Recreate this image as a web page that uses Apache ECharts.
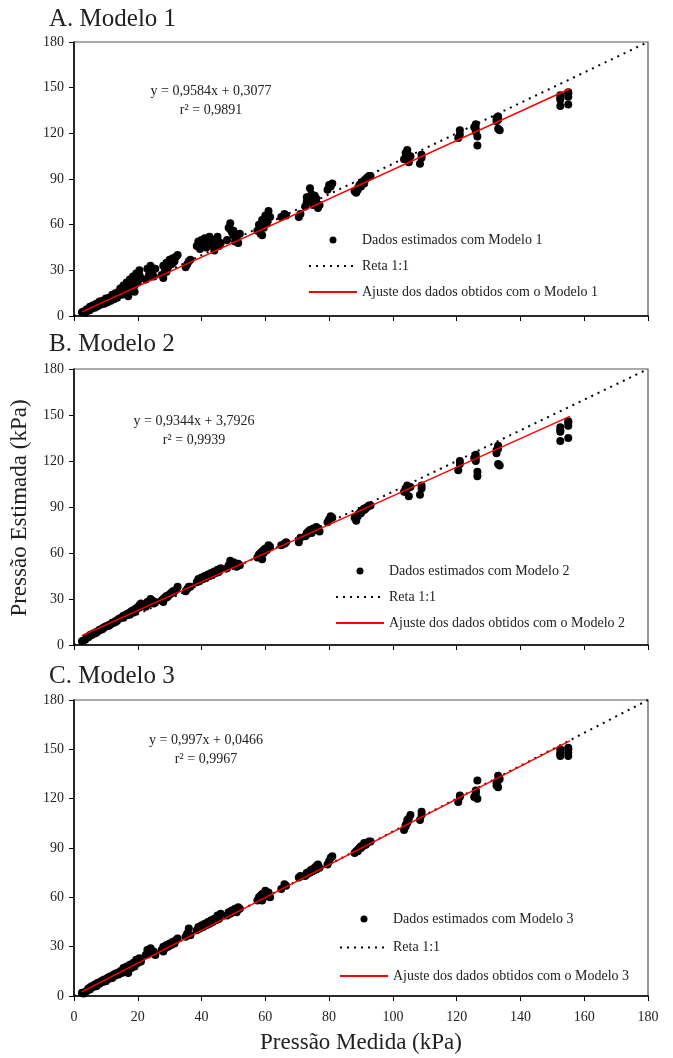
<!DOCTYPE html>
<html>
<head>
<meta charset="utf-8">
<script src="https://cdn.jsdelivr.net/npm/echarts@6/dist/echarts.min.js"></script>
<style>
html,body{margin:0;padding:0;background:#fff;}
#chart{width:673px;height:1058px;}
</style>
</head>
<body>
<div id="chart"></div>
<script>
// Pressão medida (kPa) – shared by the three models
const medida = [
  2.5,3,3.5,4,4.5,5,5.5,6,6.5,7,7.5,8,8.5,9,9.5,10,10.5,11,11.5,12,12.5,13,13.5,14,
  14.5,15,15.5,16,16.5,17,17,17.5,18,18.5,19,19,19.5,20,20.5,21,
  22.5,23,23.5,24,24.5,25,25.5,
  27.5,28,28,28.5,29,29.5,30,30.5,31,31.5,32,32.5,
  35,35.5,36,36.5,
  38.5,39,39.5,40,40.5,41,41.5,42,42.5,43,43.5,44,44.5,45,45.5,46,
  48,48.5,49,49.5,50,50.5,51,51.5,52,
  57.5,58,58.5,59,59,59.5,60,60.5,61,61.5,
  65,66,66.5,
  70.5,71,
  72.5,73,73.5,74,74.5,75,75.5,76,76.5,77,
  79.5,80,80.5,81,
  88,88.5,89,89.5,90,90.5,91,91.5,92,92.5,93,
  103.5,104,104.5,105,105.5,
  108.5,109,109,
  120.5,121,121,
  125.5,126,126,126.5,126.5,
  132.5,133,133,133.5,132.5,
  152.5,152.5,152.5,155,155,155,
  5,7,9,11,13,
  15.5,16.5,17.5,18.5,19.5,20.5,
  24,29,30,31,
  39,40,41,42,43,44,45,
  49,50,51,
  58.5,59.5,60.5,
  73,74,75,76,
  89,90,91,
  104,104.5,
  126,
  133,
  152.5,
  155
];
// Pressão estimada (kPa)
const estimadaModelo1 = [
  2.5,3,2,4.5,3.5,6,5,7,5.5,8,6.5,9.5,7.5,10,8,11.5,9,12,10,14,11,15,12,16,
  18,14,20,16,22,18,13,24,17,26,20,16,28,22,30,25,
  24,31,27,33,29,26,31,
  27,33,25,30,35,32,37,34,38,36,39,40,
  32,34,36,37,
  46,49,44,50,47,51,45,49,52,47,50,43,49,52,46,48,
  50,58,61,55,53,49,52,48,54,
  56,60,54,63,53,58,66,61,69,65,
  65,67,66,
  65,67,
  72,75,78,84,80,76,79,74,71,73,
  83,86,85,87,
  82,81,84,86,85,88,89,90,91,92,92,
  103,107,109,101,105,
  100,104,106,
  117,122,119,
  124,121,126,118,112,
  128,131,123,122,130,
  145,142,138,147,144,139,
  4,6,9,11,13,
  17,19,20,22,24,27,
  30,29,34,35,
  46,47,48,46,49,48,50,
  57,56,50,
  58,61,64,
  78,77,73,77,
  83,87,87,
  104,106,
  123,
  129,
  143,
  146
];
const estimadaModelo2 = [
  2.5,3,3.5,5,5,6,6.5,7.5,7.5,8.5,9,10,10,11,11.5,12,12.5,13,13.5,14.5,14.5,15.5,16,17,
  17.5,18,19,19,20,20.5,19.5,21,22,22.5,23,21.5,24,24.5,26,27,
  25,28,27,30,29,27,28,
  29,30,28,31,32,32,33,34,35,35,36,38,
  35,36.5,38,38,
  41,43,42,44,43,45,44,46,45,47,46,48,47,49,48,50,
  50,52,55,53,54,52,51,53,52,
  57,59,58,61,56,60,63,62,65,64,
  65,66,67,
  67,70,
  71,72,74,75,73,76,75,77,76,74,
  80,82,84,83,
  83,81,85,86,87,88,89,89,90,91,91,
  100,102,104,97,103,
  98,104,102,
  114,118,120,
  122,120,124,113,110,
  127,130,118,117,125,
  142,139,133,146,143,135,
  6.5,8,10.5,12.5,15,
  18,19.5,20,21,23,24.5,
  28,31,33,34,
  42,43,44,45,46,47,48,
  52,53,53,
  60,62,63,
  73,74,75,76,
  84,86,88,
  100,102,
  122,
  128,
  140,
  145
];
const estimadaModelo3 = [
  2,1.5,2.5,3,4.5,4,6,5.5,7,7,8,7.5,9,9.5,10,9,11,11.5,12,11,13,13.5,14,13,
  15,14,17,15,18,16,14,19,17,20,19,18,22,20,23,21,
  25,28,27,29,26,27,25,
  28,30,27,29,31,30,32,31,33,32,34,35,
  36,38,41,37,
  40,42,41,43,42,44,43,45,44,46,45,47,46,49,47,50,
  49,51,50,52,51,53,52,54,53,
  58,60,59,62,58,61,64,62,63,60,
  65,68,67,
  72,73,
  73,74,75,76,77,76,78,79,80,78,
  80,82,84,85,
  87,88,89,90,90,91,93,92,93,94,94,
  101,103,105,108,110,
  107,110,112,
  118,121,122,
  121,123,125,131,120,
  130,134,127,132,128,
  150,146,147,151,148,146,
  5,6,8.5,10.5,12.5,
  16,17,17.5,19,20,22,
  28,30,31,32,
  41,42,43,44,45,46,47,
  51,52,51,
  61,60,63,
  75,75,77,77,
  88,91,92,
  104,107,
  124,
  131,
  148,
  150
];
// Fitted lines (endpoints) and 1:1 line
const ajusteModelo1 = [[2.5, 2.7], [155.5, 149.3]];
const ajusteModelo2 = [[2.5, 6.1], [155.5, 149.1]];
const ajusteModelo3 = [[2.5, 2.5], [155.5, 155.1]];
const reta11 = [[0, 0], [180, 180]];
const ticksY = [0, 30, 60, 90, 120, 150, 180];
const ticksX = [0, 20, 40, 60, 80, 100, 120, 140, 160, 180];

const titulos = ['A. Modelo 1', 'B. Modelo 2', 'C. Modelo 3'];
const equacoes = ['y = 0,9584x + 0,3077', 'y = 0,9344x + 3,7926', 'y = 0,997x + 0,0466'];
const r2 = ['r² = 0,9891', 'r² = 0,9939', 'r² = 0,9967'];
const nomesDados = ['Dados estimados com Modelo 1', 'Dados estimados com Modelo 2', 'Dados estimados com Modelo 3'];
const nomesAjuste = ['Ajuste dos dados obtidos com o Modelo 1', 'Ajuste dos dados obtidos com o Modelo 2', 'Ajuste dos dados obtidos com o Modelo 3'];
const estimadas = [estimadaModelo1, estimadaModelo2, estimadaModelo3];
const ajustes = [ajusteModelo1, ajusteModelo2, ajusteModelo3];

const FONT = 'Liberation Serif';
const grids = [
  {left: 74, top: 42, width: 574, height: 274},
  {left: 74, top: 369, width: 574, height: 276},
  {left: 74, top: 700, width: 574, height: 296}
];
const titleTops = [2, 327, 659];
const eqPos = [[211, 91, 110], [194, 421, 440], [206, 740, 759]];
const legendPos = [
  {left: 308, top: 233, gap: 12},
  {left: 335, top: 564, gap: 12},
  {left: 339, top: 912, gap: 14.5}
];

const option = {
  animation: false,
  backgroundColor: '#fff',
  textStyle: {fontFamily: FONT},
  title: titulos.map((t, i) => ({
    text: t, left: 44, top: titleTops[i],
    textStyle: {fontFamily: FONT, fontSize: 25, fontWeight: 'normal', color: '#222'}
  })),
  grid: grids.map(g => Object.assign({show: true, borderColor: '#555', borderWidth: 1.2, containLabel: false}, g)),
  xAxis: grids.map((g, i) => ({
    type: 'value', gridIndex: i, min: 0, max: 180, interval: 20,
    axisLine: {onZero: false, lineStyle: {color: '#000', width: 1.5}},
    axisTick: {show: true, length: 5, lineStyle: {color: '#000', width: 1}},
    axisLabel: {show: i === 2, margin: 14, fontSize: 14, color: '#222', fontFamily: FONT},
    splitLine: {show: false}
  })),
  yAxis: grids.map((g, i) => ({
    type: 'value', gridIndex: i, min: 0, max: 180, interval: 30,
    axisLine: {show: true, onZero: false, lineStyle: {color: '#000', width: 1.5}},
    axisTick: {show: true, length: 5, lineStyle: {color: '#000', width: 1}},
    axisLabel: {margin: 10, fontSize: 14, color: '#222', fontFamily: FONT},
    splitLine: {show: false}
  })),
  legend: legendPos.map((p, i) => ({
    orient: 'vertical', left: p.left, top: p.top, padding: 0,
    itemWidth: 48, itemHeight: 7, itemGap: p.gap,
    selectedMode: false,
    textStyle: {fontFamily: FONT, fontSize: 14, color: '#222', lineHeight: 14},
    data: [
      {name: nomesDados[i]},
      {name: 'Reta 1:1', itemStyle: {opacity: 0}},
      {name: nomesAjuste[i], itemStyle: {opacity: 0}}
    ]
  })),
  graphic: [
    {type: 'text', x: 20, y: 508, rotation: Math.PI / 2, z: 10,
      style: {text: 'Pressão Estimada (kPa)', fill: '#222', font: '23px "Liberation Serif"', textAlign: 'center', textVerticalAlign: 'middle'}},
    {type: 'text', x: 361, y: 1043, z: 10,
      style: {text: 'Pressão Medida (kPa)', fill: '#222', font: '23px "Liberation Serif"', textAlign: 'center', textVerticalAlign: 'middle'}}
  ].concat(eqPos.flatMap((p, i) => [
    {type: 'text', x: p[0], y: p[1], z: 10,
      style: {text: equacoes[i], fill: '#222', font: '14px "Liberation Serif"', textAlign: 'center', textVerticalAlign: 'middle'}},
    {type: 'text', x: p[0], y: p[2], z: 10,
      style: {text: r2[i], fill: '#222', font: '14px "Liberation Serif"', textAlign: 'center', textVerticalAlign: 'middle'}}
  ])),
  series: []
};

for (let i = 0; i < 3; i++) {
  option.series.push({
    name: 'Reta 1:1', type: 'line', xAxisIndex: i, yAxisIndex: i,
    data: reta11, symbol: 'none', z: 1,
    itemStyle: {color: '#000'},
    lineStyle: {color: '#000', width: 2, type: [2, 5]}
  });
  option.series.push({
    name: nomesDados[i], type: 'scatter', xAxisIndex: i, yAxisIndex: i,
    data: medida.map((x, k) => [x, estimadas[i][k]]),
    symbol: 'circle', symbolSize: 8, z: 2,
    itemStyle: {color: '#000', opacity: 1}
  });
  option.series.push({
    name: nomesAjuste[i], type: 'line', xAxisIndex: i, yAxisIndex: i,
    data: ajustes[i], symbol: 'none', z: 3,
    itemStyle: {color: '#ff0000'},
    lineStyle: {color: '#ff0000', width: 1.5}
  });
}

const chart = echarts.init(document.getElementById('chart'), null, {renderer: 'canvas'});
chart.setOption(option);
</script>
</body>
</html>
